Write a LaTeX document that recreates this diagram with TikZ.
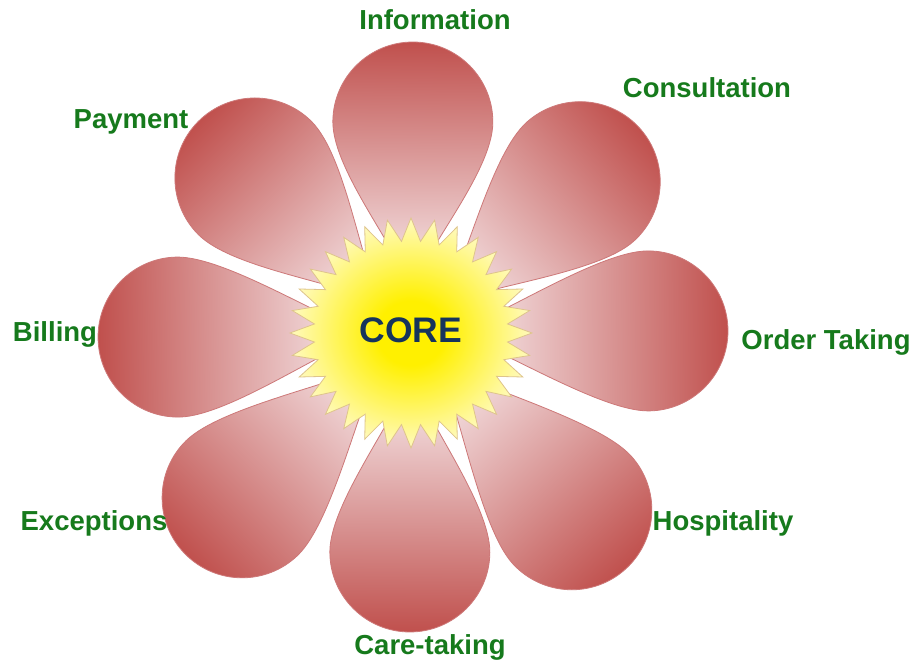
\documentclass[tikz,border=0pt]{standalone}
\usepackage{fontspec}
\setmainfont{Liberation Sans}

\definecolor{petaldark}{RGB}{192,80,77}
\definecolor{petallight}{RGB}{250,242,244}
\definecolor{petaledge}{RGB}{205,120,120}
\definecolor{labelgreen}{RGB}{22,122,28}
\definecolor{corenavy}{RGB}{22,52,92}
\definecolor{sunyellow}{RGB}{255,240,0}
\definecolor{sunpale}{RGB}{255,250,190}
\definecolor{sunedge}{RGB}{222,196,140}

% bright centre fading to a pale rim
\pgfdeclareradialshading{sunburst}{\pgfpoint{0bp}{0bp}}{%
  color(0bp)=(sunyellow); color(7bp)=(sunyellow);
  color(25bp)=(sunpale); color(50bp)=(sunpale)}

\tikzset{
  petalfill/.style={draw=petaledge, line width=0.8pt,
    left color=petallight, right color=petaldark,
    middle color=petaldark!50!petallight},
  sunstar/.style={draw=sunedge, line width=0.8pt, shading=sunburst},
  petallabel/.style={anchor=base, inner sep=0pt, text=labelgreen,
    font=\fontsize{27.5}{30}\selectfont\bfseries},
  corelabel/.style={anchor=base, inner sep=0pt, text=corenavy,
    font=\fontsize{35.5}{38}\selectfont\bfseries},
}

% one teardrop petal: #1 direction, #2 distance from the flower centre
% to the centre of the rounded end; the canvas itself is turned so that
% the shading follows the petal's axis
\newcommand\flowerpetal[2]{%
  \begin{scope}[transform canvas={shift={(411,328)}, rotate=#1}]
    \path[petalfill] (40,0) .. controls (80,10) and ({#2-50},80) .. (#2,80)
      arc[start angle=90, end angle=-90, radius=80]
      .. controls ({#2-50},-80) and (80,-10) .. (40,0) -- cycle;
  \end{scope}}

\begin{document}
\begin{tikzpicture}[x=1pt, y=1pt]
  \useasboundingbox (0,0) rectangle (922,661);
  \fill[white] (0,0) rectangle (922,661);

  % petals
  \flowerpetal{89.5}{211}
  \flowerpetal{41.8}{227}
  \flowerpetal{0.5}{237}
  \flowerpetal{-47.7}{239}
  \flowerpetal{-90.3}{219}
  \flowerpetal{224.3}{236}
  \flowerpetal{181}{233}
  \flowerpetal{135.2}{220}

  % 32-point star in the middle
  \begin{scope}[shift={(411,328)}]
    \path[sunstar] (0:121 and 115)
      \foreach \i in {0,...,31} {
        -- ({\i*11.25+5.625}:97 and 92) -- ({(\i+1)*11.25}:121 and 115)
      } -- cycle;
  \end{scope}

  \node[corelabel] (core) at (411,318) {CORE};

  % labels
  \node[petallabel] (information) at (435,631) {Information};
  \node[petallabel] (consultation) at (707,563) {Consultation};
  \node[petallabel] (ordertaking) at (826,311) {Order Taking};
  \node[petallabel] (hospitality) at (723,130) {Hospitality};
  \node[petallabel] (caretaking) at (430,6) {Care-taking};
  \node[petallabel] (exceptions) at (94,130) {Exceptions};
  \node[petallabel] (billing) at (55,319) {Billing};
  \node[petallabel] (payment) at (131,532) {Payment};
\end{tikzpicture}
\end{document}
